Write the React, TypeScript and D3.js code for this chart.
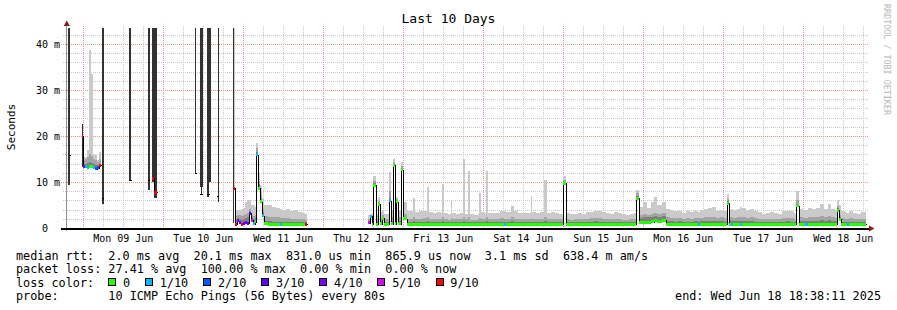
import React from "react";
import * as d3 from "d3";

const WIDTH = 897;
const HEIGHT = 310;
const START = new Date(2025, 5, 8, 19, 7);
const END = new Date(2025, 5, 18, 19, 7);
const Y_MAX = 43.5;
const PLOT_L = 67, PLOT_R = 867, PLOT_T = 28, PLOT_B = 228;

// ---- samples: start time (hours after START), median rtt (ms), loss (x/10), smoke levels (ms)
const sampleHours: number[] = [
  // Sun 8 / Mon 9 / Tue 10 (heavy loss)
  0.3, 0.9, 4.5, 4.8, 5.4, 6.0, 6.6, 7.2, 7.8, 8.4,
  9.0, 9.6, 10.2, 10.3, 10.8, 18.3, 19.2, 24.0, 24.6, 25.5,
  26.1, 27.0, 38.1, 38.7, 39.6, 40.5, 41.7, 42.6, 44.7, 45.3,
  49.8,
  // Tue 10 evening - Wed 11
  50.4, 51.0, 51.6, 52.2, 52.8, 53.4, 54.0, 54.6, 55.2, 55.8,
  56.4, 56.7, 57.3, 57.9, 58.5, 59.1, 60.3, 61.5, 62.7, 63.9,
  64.5, 65.7, 66.9, 68.1, 69.3, 70.5, 71.4, 72.0,
  // Thu 12 - Wed 18
  90.3, 90.9, 91.5, 91.8, 92.7, 93.3, 93.9, 94.5, 95.1, 96.6,
  97.2, 97.8, 98.4, 98.7, 99.3, 100.2, 100.8, 102.0, 103.2, 103.8,
  104.4, 105.6, 106.8, 108.0, 108.6, 109.8, 111.0, 112.2, 112.5, 113.1,
  114.3, 115.2, 115.5, 116.7, 117.9, 118.8, 119.4, 120.3, 120.9, 122.1,
  123.3, 123.6, 124.2, 125.4, 125.7, 126.3, 127.5, 128.7, 129.9, 131.1,
  131.7, 132.9, 133.2, 134.1, 135.3, 136.5, 137.7, 138.9, 139.2, 139.5,
  140.7, 141.9, 143.1, 144.0, 145.2, 146.4, 147.6, 148.8, 149.7, 150.9,
  152.1, 153.3, 154.5, 155.7, 156.9, 158.1, 159.3, 160.5, 161.7, 162.9,
  164.1, 165.3, 166.5, 167.7, 168.9, 170.1, 170.7, 171.6, 172.8, 174.0,
  175.2, 176.1, 177.0, 178.5, 179.7, 180.9, 182.1, 183.3, 184.5, 185.7,
  186.9, 188.1, 189.3, 189.9, 191.1, 192.3, 193.5, 194.7, 195.9, 197.1,
  198.0, 198.6, 199.2, 199.8, 201.0, 201.9, 202.5, 203.7, 204.9, 206.1,
  207.3, 208.5, 209.7, 210.9, 212.1, 213.3, 214.5, 215.7, 216.9, 218.1,
  218.7, 219.6, 220.8, 221.4, 222.3, 223.5, 224.7, 225.9, 227.1, 228.3,
  229.2, 230.4, 231.0, 231.6, 232.2, 233.4, 234.0, 234.6, 235.8, 237.0,
  238.2, 239.7,
];

const medianMs: (number | null)[] = [
  15.8, null, 20.0, 13.4, 13.3, 13.2, 13.4, 13.3, 13.1, 12.9,
  13.1, 13.6, null, 6.5, null, 10.4, null, 10.4, null, 10.8,
  7.8, null, 11.9, null, 7.5, null, 7.5, null, 7.0, null,
  8.7,
  0.8, 1.6, 1.1, 0.8, 1.0, 1.1, 1.0, 3.2, 1.7, 0.9,
  1.4, 15.9, 8.7, 5.7, 2.7, 1.0, 0.8, 0.8, 0.8, 0.8,
  0.8, 0.8, 0.8, 0.8, 0.8, 0.8, 0.8, null,
  1.1, 2.6, 0.8, 9.3, 0.8, 5.2, 0.9, 2.1, 0.8, 5.9,
  0.9, 13.6, 0.9, 5.7, 0.9, 12.7, 2.0, 0.85, 0.85, 0.85,
  0.85, 0.85, 0.85, 0.85, 0.85, 0.85, 0.85, 0.85, 0.85, 0.85,
  0.85, 0.85, 0.85, 0.85, 0.85, 0.85, 0.85, 0.85, 0.85, 0.85,
  0.85, 0.85, 0.85, 0.85, 0.85, 0.85, 0.85, 0.85, 0.85, 0.85,
  0.85, 0.85, 0.85, 0.85, 0.85, 0.85, 0.85, 0.85, 0.85, 0.85,
  0.85, 0.85, 0.85, 0.85, 0.85, 0.85, 0.85, 9.7, 0.85, 0.85,
  0.85, 0.85, 0.85, 0.85, 0.85, 0.85, 0.85, 0.85, 0.85, 0.85,
  0.85, 0.85, 0.85, 0.85, 0.85, 0.85, 6.5, 1.1, 1.2, 1.3,
  1.4, 1.6, 1.5, 1.7, 0.85, 0.85, 0.85, 0.85, 0.85, 0.85,
  0.85, 0.85, 0.85, 0.85, 0.85, 0.85, 0.85, 0.85, 0.85, 0.85,
  5.4, 0.85, 0.85, 0.85, 0.85, 0.85, 0.85, 0.85, 0.85, 0.85,
  0.85, 0.85, 0.85, 0.85, 0.85, 0.85, 0.85, 0.85, 0.85, 0.85,
  4.8, 0.85, 0.85, 0.85, 0.85, 0.85, 0.85, 0.85, 0.85, 0.85,
  0.85, 0.85, 3.9, 1.9, 0.85, 0.85, 0.85, 0.85, 0.85, 0.85,
  0.85, null,
];

const lossTenths: number[] = [
  10, 0, 9, 4, 1, 1, 0, 0, 1, 2,
  2, 9, 0, 10, 0, 10, 0, 10, 0, 9,
  9, 0, 10, 0, 10, 0, 10, 0, 10, 0,
  9,
  9, 4, 3, 9, 3, 4, 3, 3, 5, 1,
  0, 1, 0, 0, 1, 0, 0, 0, 0, 1,
  0, 0, 0, 0, 0, 0, 9, 0,
  5, 1, 0, 0, 0, 0, 0, 0, 0, 1,
  0, 0, 0, 0, 0, 0, 0, 0, 0, 0,
  0, 0, 0, 0, 0, 0, 0, 0, 0, 0,
  0, 0, 0, 0, 0, 0, 0, 0, 0, 0,
  0, 0, 0, 0, 0, 0, 0, 0, 0, 1,
  0, 0, 0, 0, 0, 0, 0, 0, 0, 0,
  0, 0, 0, 0, 0, 0, 0, 0, 0, 0,
  0, 0, 0, 0, 0, 0, 0, 0, 0, 0,
  0, 0, 0, 0, 0, 0, 0, 0, 0, 0,
  0, 0, 0, 0, 0, 0, 0, 0, 0, 0,
  0, 0, 1, 0, 0, 0, 0, 0, 0, 0,
  0, 0, 1, 0, 0, 1, 0, 0, 0, 0,
  0, 0, 0, 0, 0, 0, 0, 0, 0, 0,
  0, 0, 0, 1, 0, 0, 0, 0, 0, 0,
  0, 0, 0, 0, 0, 0, 1, 0, 0, 0,
  0, 0,
];

const smokeMaxMs: (number | null)[] = [
  null, null, null, 15.4, 15.4, 17.0, 38.7, 33.5, 15.9, 15.9,
  14.8, 16.6, null, null, null, null, null, null, null, null,
  null, null, null, null, null, null, null, null, null, null,
  60,
  3.9, 3.9, 3.9, 4.1, 4.4, 5.6, 6.1, 6.1, 5.0, 5.0,
  4.6, 18.4, 11.9, 9.3, 6.5, 5.1, 4.9, 4.6, 4.4, 4.2,
  4.0, 4.2, 3.8, 4.0, 3.5, 3.3, 3.1, null,
  2.8, 3.0, 3.0, 11.3, 3.0, 6.8, 3.5, 3.9, 3.0, 12.2,
  4.0, 15.1, 4.5, 6.8, 3.9, 14.4, 5.7, 3.7, 3.6, 6.5,
  3.5, 3.6, 3.8, 9.0, 3.5, 3.3, 3.4, 3.3, 9.6, 3.3,
  3.1, 5.9, 3.2, 3.1, 3.3, 15.1, 3.1, 12.5, 3.0, 2.9,
  3.0, 7.7, 3.5, 3.3, 12.4, 3.2, 3.2, 3.3, 3.7, 3.6,
  3.4, 3.5, 4.8, 3.6, 3.3, 3.2, 3.3, 3.2, 7.0, 3.4,
  3.3, 3.5, 10.4, 3.2, 3.4, 3.2, 3.1, 11.3, 3.2, 3.0,
  3.1, 3.3, 3.1, 3.4, 3.5, 3.8, 3.7, 3.4, 3.2, 3.1,
  3.5, 3.3, 3.0, 2.9, 3.1, 3.2, 8.3, 4.6, 5.6, 4.3,
  5.6, 6.8, 5.0, 5.6, 4.2, 3.9, 3.6, 3.8, 3.3, 3.6,
  3.4, 3.7, 3.5, 3.9, 4.2, 4.4, 4.6, 3.8, 4.0, 3.7,
  7.3, 4.0, 4.2, 3.9, 4.2, 4.6, 4.3, 3.9, 4.1, 3.7,
  3.5, 3.0, 3.2, 3.5, 3.3, 3.1, 3.6, 3.8, 3.6, 3.3,
  8.0, 4.2, 3.9, 4.0, 4.3, 4.1, 4.4, 5.2, 4.1, 5.2,
  4.2, 3.9, 6.1, 5.0, 3.7, 3.5, 3.3, 3.6, 3.3, 3.1,
  3.4, null,
];

const smokeMidMs: (number | null)[] = [
  null, null, null, 14.8, 15.0, 15.4, 16.0, 15.6, 15.0, 14.8,
  14.4, 15.0, null, null, null, null, null, null, null, null,
  null, null, null, null, null, null, null, null, null, null,
  null,
  2.6, 2.8, 2.8, 2.6, 2.8, 3.0, 3.2, 4.2, 2.9, 2.6,
  2.8, 17.3, 10.2, 7.2, 4.2, 2.6, 2.4, 2.3, 2.3, 2.2,
  2.1, 2.1, 2.0, 2.0, 1.9, 1.9, 1.8, null,
  2.0, 2.9, 1.9, 10.3, 1.9, 5.9, 2.1, 2.8, 1.9, 8.0,
  2.3, 14.4, 2.5, 6.3, 2.3, 13.5, 3.0, 2.0, 1.9, 2.3,
  2.0, 1.9, 2.1, 2.5, 1.9, 2.0, 1.9, 1.9, 2.3, 2.0,
  1.8, 2.1, 1.9, 1.9, 2.0, 2.5, 1.9, 2.3, 1.8, 1.8,
  1.9, 2.2, 2.0, 1.9, 2.4, 1.9, 2.0, 1.9, 2.1, 2.0,
  2.0, 1.9, 2.3, 2.0, 1.9, 1.9, 2.0, 1.9, 2.1, 2.0,
  1.9, 2.0, 2.4, 1.9, 2.0, 1.9, 1.9, 10.4, 1.9, 1.8,
  1.9, 2.0, 1.9, 2.0, 2.1, 2.2, 2.1, 2.0, 1.9, 1.9,
  2.0, 1.9, 1.8, 1.8, 1.9, 1.9, 7.6, 2.8, 3.0, 2.8,
  3.1, 3.3, 3.0, 3.2, 2.3, 2.2, 2.1, 2.2, 2.0, 2.1,
  2.0, 2.1, 2.1, 2.2, 2.3, 2.4, 2.5, 2.2, 2.3, 2.1,
  6.4, 2.3, 2.3, 2.2, 2.3, 2.5, 2.4, 2.2, 2.3, 2.1,
  2.0, 1.9, 1.9, 2.0, 2.0, 1.9, 2.1, 2.2, 2.1, 2.0,
  6.0, 2.3, 2.2, 2.2, 2.4, 2.3, 2.4, 2.6, 2.3, 2.6,
  2.3, 2.2, 4.8, 2.8, 2.1, 2.0, 2.0, 2.1, 2.0, 1.9,
  2.0, null,
];

const smokeLowMs: (number | null)[] = [
  null, null, null, 14.0, 14.0, 14.2, 14.4, 14.2, 13.9, 13.8,
  13.7, 14.0, null, null, null, null, null, null, null, null,
  null, null, null, null, null, null, null, null, null, null,
  null,
  1.8, 2.1, 2.0, 1.8, 2.0, 2.2, 2.4, 3.7, 2.3, 2.0,
  2.1, 16.5, 9.5, 6.4, 3.3, 1.6, 1.5, 1.4, 1.4, 1.4,
  1.3, 1.3, 1.3, 1.3, 1.2, 1.2, 1.2, null,
  1.5, 2.8, 1.3, 9.8, 1.3, 5.5, 1.4, 2.4, 1.3, 6.6,
  1.5, 14.0, 1.5, 6.0, 1.5, 13.0, 2.3, 1.4, 1.4, 1.5,
  1.4, 1.3, 1.4, 1.5, 1.4, 1.3, 1.4, 1.3, 1.5, 1.4,
  1.3, 1.4, 1.3, 1.4, 1.3, 1.5, 1.3, 1.4, 1.3, 1.3,
  1.3, 1.4, 1.4, 1.3, 1.5, 1.3, 1.4, 1.3, 1.4, 1.4,
  1.3, 1.4, 1.5, 1.4, 1.3, 1.3, 1.4, 1.3, 1.4, 1.3,
  1.4, 1.3, 1.5, 1.3, 1.4, 1.3, 1.3, 10.0, 1.3, 1.3,
  1.3, 1.4, 1.3, 1.4, 1.4, 1.5, 1.4, 1.4, 1.3, 1.3,
  1.4, 1.3, 1.3, 1.3, 1.3, 1.4, 7.0, 2.2, 2.4, 2.3,
  2.5, 2.6, 2.5, 2.6, 1.6, 1.5, 1.4, 1.5, 1.4, 1.4,
  1.4, 1.5, 1.4, 1.5, 1.5, 1.6, 1.6, 1.5, 1.5, 1.4,
  5.9, 1.5, 1.5, 1.5, 1.6, 1.6, 1.5, 1.5, 1.5, 1.4,
  1.4, 1.3, 1.3, 1.4, 1.4, 1.3, 1.4, 1.5, 1.4, 1.4,
  5.3, 1.5, 1.5, 1.5, 1.6, 1.5, 1.6, 1.7, 1.5, 1.7,
  1.5, 1.5, 4.3, 2.4, 1.4, 1.4, 1.3, 1.4, 1.3, 1.3,
  1.4, null,
];

// ---- dense (innermost) smoke bars during the high-loss period
const barStartHours = [0.3, 4.5, 10.5, 18.6, 24.3, 25.5, 26.1, 38.4, 39.9, 40.2, 42.0, 42.0, 45.3, 49.8];
const barEndHours = [0.9, 4.8, 11.1, 19.2, 24.9, 26.1, 27.0, 38.8, 40.8, 40.5, 43.2, 42.6, 45.6, 50.1];
const barFloorMs = [9.4, 13.3, 5.2, 10.4, 8.3, 10.1, 6.5, 11.9, 9.0, 7.5, 9.9, 6.8, 5.7, 1.0];
const barCeilMs = [60, 22.6, 60, 60, 60, 60, 60, 60, 60, 60, 60, 60, 60, 60];

// ---- legend
const lossLegendLabels = ["0", "1/10", "2/10", "3/10", "4/10", "5/10", "9/10"];
const lossLegendColors = ["#26ff00", "#00b8ff", "#0059ff", "#5e00ff", "#7e00ff", "#dd00ff", "#ff0000"];
const rttLine = "median rtt:  2.0 ms avg  20.1 ms max  831.0 us min  865.9 us now  3.1 ms sd  638.4 m am/s";
const lossLine = "packet loss: 27.41 % avg  100.00 % max  0.00 % min  0.00 % now";
const probeLine = "probe:       10 ICMP Echo Pings (56 Bytes) every 80s";
const endLine = "end: Wed Jun 18 18:38:11 2025";
const titleText = "Last 10 Days";
const yAxisTitle = "Seconds";
const watermark = "RRDTOOL / TOBI OETIKER";

function lossColor(l: number): string | null {
  if (l >= 10) return null;
  if (l >= 6) return "#ff0000";
  return lossLegendColors[l];
}

const MONO = "'DejaVu Sans Mono', monospace";
const PRE = { whiteSpace: "pre" as const };

export default function App() {
  const x = d3.scaleTime().domain([START, END]).range([PLOT_L, PLOT_R]);
  const y = d3.scaleLinear().domain([0, Y_MAX]).range([PLOT_B, PLOT_T]);
  const tx = (h: number) => Math.round(x(new Date(START.getTime() + h * 3600000)));
  const ty = (v: number) => Math.round(Math.max(PLOT_T, y(v)));

  const n = Math.min(sampleHours.length, medianMs.length, lossTenths.length, smokeMaxMs.length, smokeMidMs.length, smokeLowMs.length);

  const dayTicks = d3.timeDay.range(START, END);
  const sixHourTicks = d3.timeHour.every(6)!.range(START, END).filter((d) => d.getHours() !== 0);
  const dayLabels = dayTicks.map((d) => d3.timeHour.offset(d, 12)).filter((d) => d < END);
  const fmtDay = d3.timeFormat("%a %d %b");
  const minorY = y.ticks(20);
  const majorY = y.ticks(4);

  const smoke: JSX.Element[] = [];
  const bands: JSX.Element[] = [];
  let medPath = "";
  for (let i = 0; i < n - 1; i++) {
    const m = medianMs[i];
    if (m == null) continue;
    const x0 = tx(sampleHours[i]);
    const x1 = tx(sampleHours[i + 1]);
    const ym = Math.round(y(m));
    const layers: [(number | null)[], string][] = [
      [smokeMaxMs, "#cacaca"],
      [smokeMidMs, "#a4a4a4"],
      [smokeLowMs, "#7e7e7e"],
    ];
    layers.forEach(([arr, col], k) => {
      const v = arr[i];
      if (v == null) return;
      const yt = ty(v);
      if (ym - yt > 0)
        smoke.push(<rect key={`s${i}-${k}`} x={x0} y={yt} width={Math.max(1, x1 - x0)} height={ym - yt} fill={col} />);
    });
    const prev = i > 0 ? medianMs[i - 1] : null;
    if (prev == null) medPath += `M${x0 + 0.5},${ym + 0.5}`;
    else medPath += `V${ym + 0.5}`;
    medPath += `H${x1 + 0.5}`;
    const c = lossColor(lossTenths[i]);
    if (c) {
      const yc = Math.round(y(m) - 1.5);
      bands.push(<rect key={`b${i}`} x={x0} y={yc} width={Math.max(1, x1 - x0)} height={3} fill={c} />);
    }
  }

  const bars = barStartHours.map((s, i) => {
    const x0 = tx(s);
    const x1 = tx(barEndHours[i]);
    const yt = ty(barCeilMs[i]);
    const yb = Math.round(y(barFloorMs[i]));
    return <rect key={`d${i}`} x={x0} y={yt} width={Math.max(1, x1 - x0)} height={yb - yt} fill="#323232" />;
  });

  const charW = 7.1;
  let lx = 16 + 13 * charW;
  const legendItems = lossLegendLabels.map((lab, i) => {
    const bx = Math.round(lx);
    const labelX = lx + 14.7;
    lx = labelX + lab.length * charW + 15;
    return (
      <g key={`l${i}`}>
        <rect x={bx + 0.5} y={278.5} width={7} height={7} fill={lossLegendColors[i]} stroke="#000" strokeWidth={1} shapeRendering="crispEdges" />
        <text x={labelX} y={286.5} fontFamily={MONO} fontSize={11.8} fill="#000">{lab}</text>
      </g>
    );
  });

  return (
    <svg
      width={WIDTH}
      height={HEIGHT}
      viewBox={`0 0 ${WIDTH} ${HEIGHT}`}
      style={{ position: "absolute", left: 0, top: 0, background: "#fff" }}
    >
      <rect x={0} y={0} width={WIDTH} height={HEIGHT} fill="#ffffff" />
      <g shapeRendering="crispEdges" strokeDasharray="1,1" strokeWidth={1}>
        {minorY.filter((v) => !majorY.includes(v)).map((v) => (
          <line key={`gy${v}`} x1={63} x2={868} y1={Math.round(y(v)) + 0.5} y2={Math.round(y(v)) + 0.5} stroke="#c8c8c8" />
        ))}
        {sixHourTicks.map((d) => (
          <line key={`gx${+d}`} x1={Math.round(x(d)) + 0.5} x2={Math.round(x(d)) + 0.5} y1={26} y2={PLOT_B} stroke="#c8c8c8" />
        ))}
        {majorY.filter((v) => v > 0).map((v) => (
          <line key={`my${v}`} x1={61} x2={869} y1={Math.round(y(v)) + 0.5} y2={Math.round(y(v)) + 0.5} stroke="#ea9090" />
        ))}
        {dayTicks.map((d) => (
          <line key={`mx${+d}`} x1={Math.round(x(d)) + 0.5} x2={Math.round(x(d)) + 0.5} y1={26} y2={PLOT_B} stroke="#ea9090" />
        ))}
      </g>
      <g shapeRendering="crispEdges">
        {smoke}
        {bars}
        <path d={medPath} fill="none" stroke="#000" strokeWidth={1} />
        {bands}
      </g>
      <g shapeRendering="crispEdges">
        <line x1={66.5} x2={66.5} y1={24} y2={231} stroke="#909090" />
        <rect x={61} y={228} width={808} height={2} fill="#000" />
      </g>
      <polygon points="63.8,26 69.8,26 66.8,20.5" fill="#8b1a1a" />
      <polygon points="869,225.5 869,231.5 874.5,228.5" fill="#8b1a1a" />
      {majorY.map((v) => (
        <text
          key={`yl${v}`}
          x={v === 0 ? 48 : 60}
          y={Math.round(y(v)) + 3.6}
          textAnchor="end"
          fontFamily={MONO}
          fontSize={10}
          fill="#000"
        >
          {v === 0 ? "0" : `${v} m`}
        </text>
      ))}
      {dayLabels.map((d) => (
        <text key={`xl${+d}`} x={x(d)} y={241.5} textAnchor="middle" fontFamily={MONO} fontSize={10} fill="#000">
          {fmtDay(d)}
        </text>
      ))}
      <text x={448.5} y={23} textAnchor="middle" fontFamily={MONO} fontSize={13} fill="#000">{titleText}</text>
      <text transform="translate(15,127) rotate(-90)" textAnchor="middle" fontFamily={MONO} fontSize={11} fill="#000">
        {yAxisTitle}
      </text>
      <text transform="translate(884,4) rotate(90)" fontFamily={MONO} fontSize={8.4} fill="#b8b8b8">{watermark}</text>
      <text x={16} y={259.5} xmlSpace="preserve" style={PRE} fontFamily={MONO} fontSize={11.8} fill="#000">{rttLine}</text>
      <text x={16} y={273} xmlSpace="preserve" style={PRE} fontFamily={MONO} fontSize={11.8} fill="#000">{lossLine}</text>
      <text x={16} y={286.5} xmlSpace="preserve" style={PRE} fontFamily={MONO} fontSize={11.8} fill="#000">loss color:</text>
      <text x={16} y={300} xmlSpace="preserve" style={PRE} fontFamily={MONO} fontSize={11.8} fill="#000">{probeLine}</text>
      <text x={881} y={300} textAnchor="end" xmlSpace="preserve" style={PRE} fontFamily={MONO} fontSize={11.8} fill="#000">{endLine}</text>
      {legendItems}
    </svg>
  );
}
